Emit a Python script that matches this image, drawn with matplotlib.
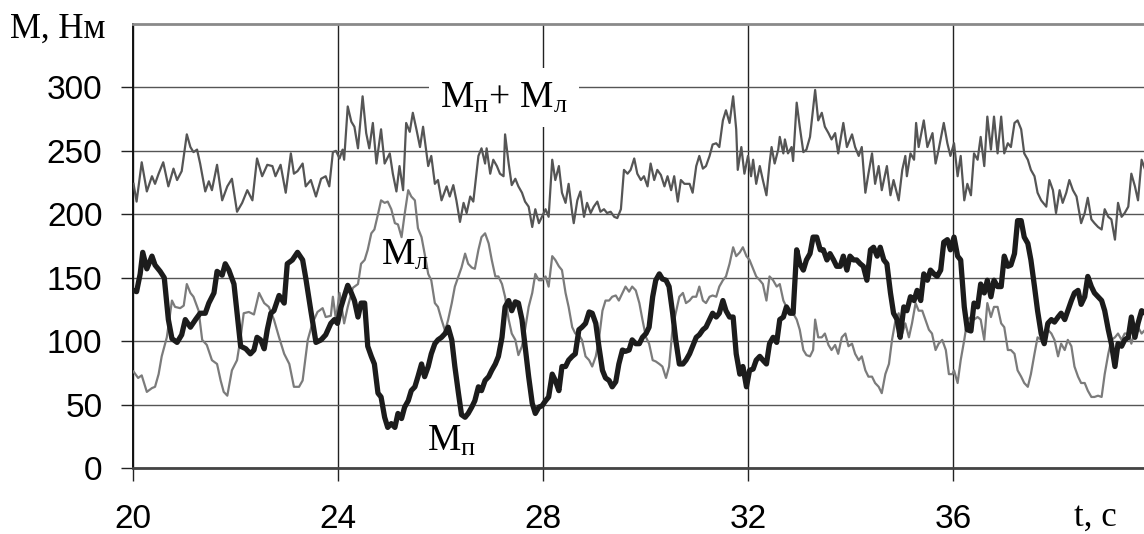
import matplotlib
matplotlib.use("Agg")
import matplotlib.pyplot as plt


#   Data (t in s, M in N*m)   #

t_sum = [20.01, 20.07, 20.17, 20.27, 20.37, 20.43, 20.50, 20.59, 20.69, 20.79,
         20.86, 20.95, 21.05, 21.12, 21.18, 21.25, 21.31, 21.41, 21.48, 21.54,
         21.64, 21.74, 21.84, 21.93, 22.03, 22.13, 22.23, 22.33, 22.42, 22.52,
         22.62, 22.72, 22.78, 22.88, 22.98, 23.08, 23.14, 23.21, 23.31, 23.37,
         23.47, 23.57, 23.67, 23.76, 23.83,
         23.90, 23.96, 24.03, 24.09, 24.12, 24.19, 24.26, 24.32, 24.39, 24.48,
         24.55, 24.61, 24.68, 24.75, 24.84, 24.91, 25.01, 25.07, 25.14, 25.20,
         25.27, 25.33, 25.40, 25.46, 25.53, 25.60, 25.66, 25.76, 25.82, 25.89,
         25.95, 26.02, 26.12, 26.18, 26.25, 26.31, 26.38, 26.45, 26.51, 26.58,
         26.64, 26.74, 26.80, 26.87, 26.90, 26.97, 27.03, 27.10, 27.16, 27.23,
         27.26, 27.33, 27.39, 27.46, 27.52, 27.59, 27.65, 27.72, 27.79, 27.85,
         27.92,
         27.98, 28.05, 28.11, 28.18, 28.24, 28.31, 28.37, 28.44, 28.50, 28.57,
         28.60, 28.67, 28.73, 28.80, 28.86, 28.93, 28.99, 29.06, 29.12, 29.19,
         29.25, 29.32, 29.39, 29.45, 29.52, 29.58, 29.65, 29.71, 29.78, 29.84,
         29.91, 29.97, 30.04, 30.10, 30.17, 30.23, 30.30, 30.37, 30.43, 30.50,
         30.56, 30.63, 30.69, 30.76, 30.86, 30.92, 30.99, 31.05, 31.12, 31.18,
         31.25, 31.31, 31.38, 31.44, 31.51, 31.57, 31.64, 31.71, 31.77, 31.80,
         31.87, 31.93, 32.00, 32.06,
         32.10, 32.16, 32.23, 32.29, 32.36, 32.42, 32.46, 32.52, 32.59, 32.62,
         32.69, 32.72, 32.78, 32.85, 32.88, 32.95, 33.01, 33.08, 33.14, 33.21,
         33.31, 33.37, 33.44, 33.50, 33.57, 33.63, 33.70, 33.76, 33.86, 33.93,
         34.03, 34.09, 34.16, 34.22, 34.29, 34.35, 34.42, 34.48, 34.55, 34.61,
         34.71, 34.78, 34.84, 34.94, 35.01, 35.07, 35.10, 35.17, 35.24, 35.28,
         35.33, 35.43, 35.50, 35.60, 35.66, 35.72, 35.82, 35.89, 35.95,
         36.02, 36.09, 36.15, 36.22, 36.28, 36.35, 36.41, 36.48, 36.54, 36.61,
         36.67, 36.74, 36.80, 36.87, 36.94, 37.00, 37.07, 37.13, 37.20, 37.26,
         37.33, 37.39, 37.46, 37.52, 37.59, 37.65, 37.72, 37.82, 37.88, 37.95,
         38.01, 38.08, 38.14, 38.21, 38.27, 38.34, 38.41, 38.50, 38.57, 38.63,
         38.70, 38.76, 38.83, 38.90, 38.96, 39.03, 39.09, 39.16, 39.22, 39.29,
         39.35, 39.42, 39.48, 39.55, 39.61, 39.68, 39.75, 39.81]

m_sum = [224, 210, 241, 218, 230, 224, 232, 241, 222, 236,
         227, 234, 263, 253, 249, 251, 240, 218, 226, 219,
         239, 211, 222, 228, 202, 209, 219, 211, 244, 230,
         239, 238, 230, 239, 217, 248, 232, 234, 240, 222,
         227, 214, 228, 230, 222,
         249, 250, 244, 251, 243, 285, 273, 269, 252, 293,
         264, 252, 272, 240, 267, 240, 248, 232, 218, 238,
         219, 272, 265, 280, 267, 253, 269, 238, 246, 224,
         227, 211, 222, 214, 223, 211, 194, 209, 201, 214,
         210, 246, 252, 240, 252, 232, 243, 238, 232, 230,
         263, 240, 223, 228, 222, 217, 210, 206, 190, 204,
         193,
         198, 204, 198, 243, 227, 238, 217, 209, 224, 201,
         193, 211, 218, 198, 209, 201, 206, 210, 202, 204,
         201, 202, 198, 197, 204, 235, 232, 235, 244, 232,
         227, 230, 222, 240, 227, 235, 231, 222, 230, 219,
         230, 210, 227, 224, 224, 217, 238, 246, 236, 238,
         246, 255, 256, 253, 274, 282, 272, 293, 267, 235,
         253, 232, 246, 230,
         243, 224, 238, 227, 215, 240, 253, 240, 251, 261,
         248, 259, 248, 253, 242, 288, 269, 249, 251, 261,
         298, 274, 280, 269, 264, 259, 264, 248, 272, 253,
         263, 253, 246, 253, 217, 232, 248, 224, 238, 219,
         238, 215, 227, 211, 235, 246, 230, 248, 243, 272,
         253, 274, 253, 264, 240, 251, 272, 256, 246,
         256, 230, 246, 211, 224, 215, 248, 243, 261, 238,
         277, 251, 277, 248, 277, 248, 256, 253, 272, 274,
         267, 248, 243, 235, 230, 217, 211, 206, 227, 219,
         201, 219, 209, 217, 227, 219, 214, 193, 201, 213,
         196, 193, 190, 188, 204, 198, 196, 180, 209, 198,
         201, 206, 232, 222, 211, 243, 235, 238]

t_p = [20.01, 20.07, 20.14, 20.19, 20.27, 20.37, 20.43, 20.53, 20.61, 20.69,
       20.76, 20.86, 20.95, 21.02, 21.12, 21.22, 21.31, 21.41, 21.48, 21.58,
       21.64, 21.74, 21.80, 21.87, 21.97, 22.03, 22.10, 22.20, 22.29, 22.36,
       22.42, 22.49, 22.56, 22.62, 22.69, 22.75, 22.85, 22.95, 23.01, 23.11,
       23.21, 23.31, 23.37, 23.47, 23.57, 23.67, 23.76,
       23.86, 23.93, 23.99, 24.06, 24.12, 24.19, 24.26, 24.32, 24.39, 24.45,
       24.52, 24.58, 24.65, 24.71, 24.78, 24.84, 24.91, 24.97, 25.04, 25.11,
       25.17, 25.24, 25.30, 25.37, 25.43, 25.50, 25.56, 25.63, 25.69, 25.76,
       25.82, 25.89, 25.95, 26.02, 26.09, 26.15, 26.22, 26.28, 26.35, 26.41,
       26.48, 26.54, 26.61, 26.67, 26.74, 26.80, 26.87, 26.94, 27.00, 27.07,
       27.13, 27.20, 27.26, 27.33, 27.39, 27.46, 27.52, 27.59, 27.65, 27.72,
       27.79, 27.85, 27.92,
       27.98, 28.05, 28.11, 28.18, 28.24, 28.31, 28.37, 28.44, 28.50, 28.57,
       28.63, 28.70, 28.76, 28.83, 28.90, 28.96, 29.03, 29.09, 29.16, 29.22,
       29.29, 29.35, 29.42, 29.48, 29.55, 29.61, 29.68, 29.74, 29.81, 29.88,
       29.94, 30.01, 30.07, 30.14, 30.20, 30.27, 30.33, 30.40, 30.46, 30.53,
       30.59, 30.66, 30.73, 30.79, 30.86, 30.92, 30.99, 31.05, 31.12, 31.18,
       31.25, 31.31, 31.38, 31.44, 31.51, 31.57, 31.64, 31.71, 31.77, 31.84,
       31.90, 31.97, 32.03,
       32.10, 32.16, 32.23, 32.29, 32.36, 32.42, 32.49, 32.56, 32.62, 32.69,
       32.75, 32.82, 32.88, 32.95, 33.01, 33.08, 33.14, 33.21, 33.27, 33.34,
       33.41, 33.47, 33.54, 33.60, 33.67, 33.73, 33.80, 33.86, 33.93, 33.99,
       34.06, 34.12, 34.19, 34.25, 34.32, 34.39, 34.45, 34.52, 34.58, 34.65,
       34.71, 34.78, 34.84, 34.91, 34.97, 35.04, 35.10, 35.17, 35.24, 35.30,
       35.37, 35.43, 35.50, 35.56, 35.63, 35.69, 35.76, 35.82, 35.89, 35.95,
       36.02, 36.09, 36.15, 36.22, 36.28, 36.35, 36.41, 36.48, 36.54, 36.61,
       36.67, 36.74, 36.80, 36.87, 36.94, 37.00, 37.07, 37.13, 37.20, 37.26,
       37.33, 37.39, 37.46, 37.52, 37.59, 37.65, 37.72, 37.78, 37.85, 37.92,
       37.98, 38.05, 38.11, 38.18, 38.24, 38.31, 38.37, 38.44, 38.50, 38.57,
       38.63, 38.70, 38.76, 38.83, 38.90, 38.96, 39.03, 39.09, 39.16, 39.22,
       39.29, 39.35, 39.42, 39.48, 39.55, 39.61, 39.68, 39.75, 39.81]

m_p = [140, 139, 153, 170, 157, 167, 160, 155, 150, 117,
       102, 99, 105, 117, 111, 117, 122, 122, 130, 138,
       155, 152, 161, 156, 145, 122, 96, 94, 90, 93,
       103, 101, 94, 109, 122, 124, 136, 130, 161, 164,
       170, 164, 150, 124, 99, 101, 105,
       114, 117, 114, 127, 135, 144, 138, 132, 119, 130,
       130, 96, 88, 82, 59, 56, 40, 32, 35, 32,
       43, 39, 48, 53, 61, 64, 72, 82, 72, 80,
       90, 98, 101, 103, 106, 111, 101, 80, 59, 42,
       40, 43, 48, 53, 64, 61, 69, 72, 77, 82,
       88, 103, 127, 132, 124, 131, 130, 117, 96, 72,
       51, 43, 48,
       49, 53, 56, 74, 69, 61, 80, 80, 85, 88,
       90, 109, 111, 114, 123, 122, 114, 96, 77, 71,
       69, 64, 68, 82, 93, 92, 93, 101, 98, 98,
       103, 106, 111, 135, 148, 153, 149, 148, 143, 122,
       101, 82, 82, 85, 90, 96, 103, 105, 109, 111,
       117, 122, 119, 122, 132, 124, 119, 119, 90, 74,
       80, 64, 77,
       78, 85, 88, 85, 82, 98, 103, 99, 117, 119,
       127, 122, 122, 172, 161, 156, 164, 169, 182, 182,
       172, 172, 164, 169, 164, 159, 159, 167, 156, 167,
       164, 164, 161, 159, 148, 172, 174, 167, 174, 164,
       161, 138, 122, 117, 103, 127, 124, 135, 132, 140,
       132, 153, 148, 156, 153, 151, 156, 178, 180, 172,
       182, 167, 164, 127, 109, 108, 130, 127, 145, 138,
       148, 135, 148, 143, 143, 167, 159, 160, 169, 195,
       195, 182, 177, 164, 143, 124, 106, 98, 114, 117,
       115, 119, 122, 117, 124, 132, 138, 140, 129, 135,
       151, 143, 138, 135, 132, 124, 109, 98, 80, 98,
       96, 101, 103, 119, 103, 114, 124, 122, 130]

t_l = [20.01, 20.10, 20.17, 20.27, 20.37, 20.43, 20.50, 20.56, 20.66, 20.76,
       20.82, 20.92, 20.99, 21.05, 21.12, 21.18, 21.28, 21.35, 21.44, 21.54,
       21.64, 21.71, 21.77, 21.84, 21.93, 22.03, 22.10, 22.16, 22.26, 22.36,
       22.46, 22.56, 22.65, 22.75, 22.85, 22.95, 23.05, 23.14, 23.24, 23.31,
       23.41, 23.50, 23.60, 23.70, 23.76,
       23.86, 23.90, 23.96, 24.03, 24.12, 24.19, 24.29, 24.39, 24.45, 24.52,
       24.58, 24.65, 24.71, 24.78, 24.84, 24.91, 24.97, 25.04, 25.11, 25.17,
       25.24, 25.30, 25.37, 25.43, 25.50, 25.56, 25.63, 25.69, 25.76, 25.82,
       25.89, 25.95, 26.02, 26.09, 26.15, 26.22, 26.28, 26.35, 26.41, 26.48,
       26.54, 26.61, 26.67, 26.74, 26.80, 26.87, 26.94, 27.00, 27.07, 27.13,
       27.20, 27.26, 27.33, 27.39, 27.46, 27.52, 27.59, 27.65, 27.72, 27.79,
       27.85, 27.92,
       27.98, 28.05, 28.11, 28.18, 28.24, 28.31, 28.37, 28.44, 28.50, 28.57,
       28.63, 28.70, 28.76, 28.83, 28.90, 28.96, 29.03, 29.09, 29.16, 29.22,
       29.29, 29.35, 29.42, 29.48, 29.55, 29.61, 29.68, 29.74, 29.81, 29.88,
       29.94, 30.01, 30.07, 30.14, 30.20, 30.27, 30.33, 30.40, 30.46, 30.53,
       30.59, 30.66, 30.73, 30.79, 30.86, 30.92, 30.99, 31.05, 31.12, 31.18,
       31.25, 31.31, 31.38, 31.44, 31.51, 31.57, 31.64, 31.71, 31.77, 31.84,
       31.90, 31.97, 32.03,
       32.10, 32.16, 32.23, 32.29, 32.36, 32.42, 32.49, 32.56, 32.62, 32.69,
       32.75, 32.82, 32.88, 32.95, 33.01, 33.08, 33.14, 33.21, 33.27, 33.31,
       33.37, 33.44, 33.50, 33.57, 33.63, 33.70, 33.76, 33.83, 33.90, 33.96,
       34.03, 34.09, 34.16, 34.22, 34.29, 34.35, 34.42, 34.48, 34.55, 34.61,
       34.68, 34.75, 34.81, 34.88, 34.94, 35.01, 35.07, 35.14, 35.20, 35.27,
       35.33, 35.40, 35.46, 35.53, 35.59, 35.66, 35.72, 35.79, 35.86, 35.92,
       35.99,
       36.02, 36.09, 36.15, 36.22, 36.28, 36.35, 36.41, 36.48, 36.54, 36.61,
       36.67, 36.74, 36.80, 36.87, 36.94, 37.00, 37.07, 37.13, 37.20, 37.26,
       37.33, 37.39, 37.46, 37.52, 37.59, 37.65, 37.72, 37.78, 37.85, 37.92,
       37.98, 38.05, 38.11, 38.18, 38.24, 38.31, 38.37, 38.44, 38.50, 38.57,
       38.63, 38.70, 38.76, 38.83, 38.90, 38.96, 39.03, 39.09, 39.16, 39.22,
       39.29, 39.35, 39.42, 39.48, 39.55, 39.61, 39.68, 39.75, 39.81]

m_l = [76, 71, 73, 60, 63, 64, 74, 88, 103, 132,
       127, 126, 128, 145, 138, 135, 124, 101, 97, 85,
       82, 69, 60, 57, 77, 85, 103, 122, 123, 121,
       138, 130, 127, 117, 103, 90, 82, 64, 64, 69,
       101, 114, 123, 126, 119,
       120, 135, 117, 138, 114, 127, 142, 145, 161, 164,
       172, 185, 188, 200, 211, 209, 210, 204, 193, 192,
       182, 200, 219, 214, 211, 189, 182, 169, 153, 148,
       130, 127, 117, 108, 117, 130, 143, 151, 158, 169,
       161, 158, 157, 172, 182, 185, 177, 164, 151, 151,
       145, 135, 117, 106, 101, 89, 96, 109, 127, 138,
       153, 148,
       148, 151, 143, 167, 164, 159, 156, 138, 127, 111,
       106, 105, 101, 88, 85, 80, 88, 101, 124, 132,
       132, 135, 136, 132, 138, 143, 139, 143, 140, 130,
       117, 103, 98, 85, 84, 82, 80, 71, 80, 111,
       122, 135, 138, 130, 132, 135, 135, 143, 132, 130,
       135, 136, 135, 143, 148, 151, 161, 174, 167, 170,
       174, 167, 164,
       157, 151, 148, 145, 132, 151, 148, 143, 145, 132,
       127, 124, 122, 117, 109, 93, 89, 88, 93, 117,
       103, 103, 106, 97, 93, 97, 90, 103, 106, 96,
       98, 90, 85, 88, 77, 72, 72, 67, 64, 59,
       74, 82, 101, 117, 122, 106, 114, 103, 114, 130,
       124, 124, 117, 109, 106, 93, 98, 101, 93, 74,
       74,
       77, 67, 85, 101, 117, 119, 117, 119, 117, 101,
       130, 119, 127, 127, 114, 111, 93, 93, 90, 77,
       72, 67, 64, 74, 90, 103, 101, 103, 109, 106,
       101, 88, 98, 93, 101, 96, 80, 72, 67, 67,
       61, 56, 56, 57, 56, 74, 90, 101, 103, 106,
       101, 106, 106, 98, 109, 111, 106, 109, 109]

x_ticks = [20, 24, 28, 32, 36]
y_ticks = [0, 50, 100, 150, 200, 250, 300]


#   Fonts   #
plt.rcParams['font.family'] = ['Liberation Sans', 'DejaVu Sans']
plt.rcParams['mathtext.fontset'] = 'custom'
plt.rcParams['mathtext.rm'] = 'Liberation Serif'
plt.rcParams['mathtext.it'] = 'Liberation Serif'
serif = ['Liberation Serif', 'DejaVu Serif']


#   Create the figure   #
fig = plt.figure(figsize=(11.44, 5.34), dpi=100)
ax = fig.add_axes([133 / 1144, 66 / 534, 1025 / 1144, 444 / 534])

ax.plot(t_sum, m_sum, color='#555555', lw=1.6, zorder=3)
ax.plot(t_l, m_l, color='#7b7b7b', lw=1.6, zorder=3)
ax.plot(t_p, m_p, color='#1c1c1c', lw=3.8, zorder=4, solid_joinstyle='round')

ax.set_xlim(20, 40)
ax.set_ylim(0, 350)
ax.set_xticks(x_ticks)
ax.set_xticklabels([str(v) for v in x_ticks])
ax.set_yticks(y_ticks)
ax.set_yticklabels([str(v) for v in y_ticks])

#   Customize plot   #
ax.grid(axis='y', color='#555555', lw=1.0, zorder=1)
ax.grid(axis='x', color='#222222', lw=1.0, zorder=1)
ax.tick_params(axis='both', direction='out', length=9, width=1, color='#222222', labelsize=24)
ax.tick_params(axis='x', pad=17)
ax.tick_params(axis='y', pad=13)

ax.spines['right'].set_visible(False)
ax.spines['top'].set_color('#8a8a8a')
ax.spines['top'].set_linewidth(2)
ax.spines['bottom'].set_color('#444444')
ax.spines['bottom'].set_linewidth(2)
ax.spines['left'].set_color('#111111')
ax.spines['left'].set_linewidth(1.4)

#   Curve names   #
ax.text(26.0, 284, r'$\mathrm{M_{п}{+}\ M_{л}}$', fontsize=27, va='baseline', zorder=5,
        bbox=dict(facecolor='white', edgecolor='none', boxstyle='square,pad=0.3'))
ax.text(24.84, 160, r'$\mathrm{M_{л}}$', fontsize=27, va='baseline', zorder=5)
ax.text(25.73, 14, r'$\mathrm{M_{п}}$', fontsize=27, va='baseline', zorder=5)

#   Axis names   #
fig.text(10 / 1144, 1 - 38 / 534, 'М, Нм', family=serif, fontsize=25, va='baseline')
fig.text(1074 / 1144, 1 - 526 / 534, 't, c', family=serif, fontsize=25, va='baseline')

fig.savefig('out.png', dpi=100)
